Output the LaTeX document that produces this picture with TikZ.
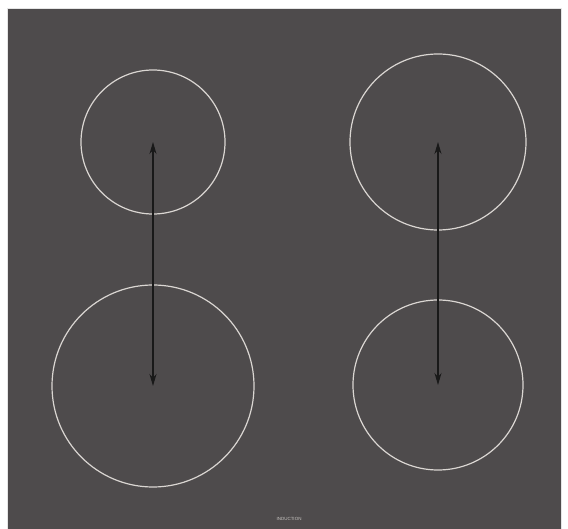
\documentclass[tikz,border=0pt]{standalone}
\usepackage{fontspec}
\setmainfont{Liberation Sans}
\usetikzlibrary{arrows.meta}
\definecolor{hob}{HTML}{4E4B4C}
\definecolor{ring}{HTML}{DAD6D2}
\tikzset{
  zone/.style={circle, draw=ring, line width=1.2pt, inner sep=0pt, minimum size=#1},
  link/.style={{Stealth[length=12pt,width=7pt]}-{Stealth[length=12pt,width=7pt]}, line width=1.1pt, black!90},
}
\begin{document}
\begin{tikzpicture}[x=1pt,y=-1pt]
\useasboundingbox (0,0) rectangle (568,529);
\fill[white] (0,0) rectangle (568,529);
\fill[hob] (7,8) rectangle (561,529);
\draw[white!80!gray, line width=0.6pt] (7,529) -- (7,8) -- (561,8) -- (561,529);
\node[zone=144pt] (tl) at (153,142) {};
\node[zone=176pt] (tr) at (438,142) {};
\node[zone=202pt] (bl) at (153,386) {};
\node[zone=170pt] (br) at (438,385) {};
\draw[link] (tl.center) -- (bl.center);
\draw[link] (tr.center) -- (br.center);
\node[text=ring!80!gray, font=\fontsize{4.5}{5}\selectfont] (lbl) at (289,519) {INDUCTION};
\end{tikzpicture}
\end{document}
